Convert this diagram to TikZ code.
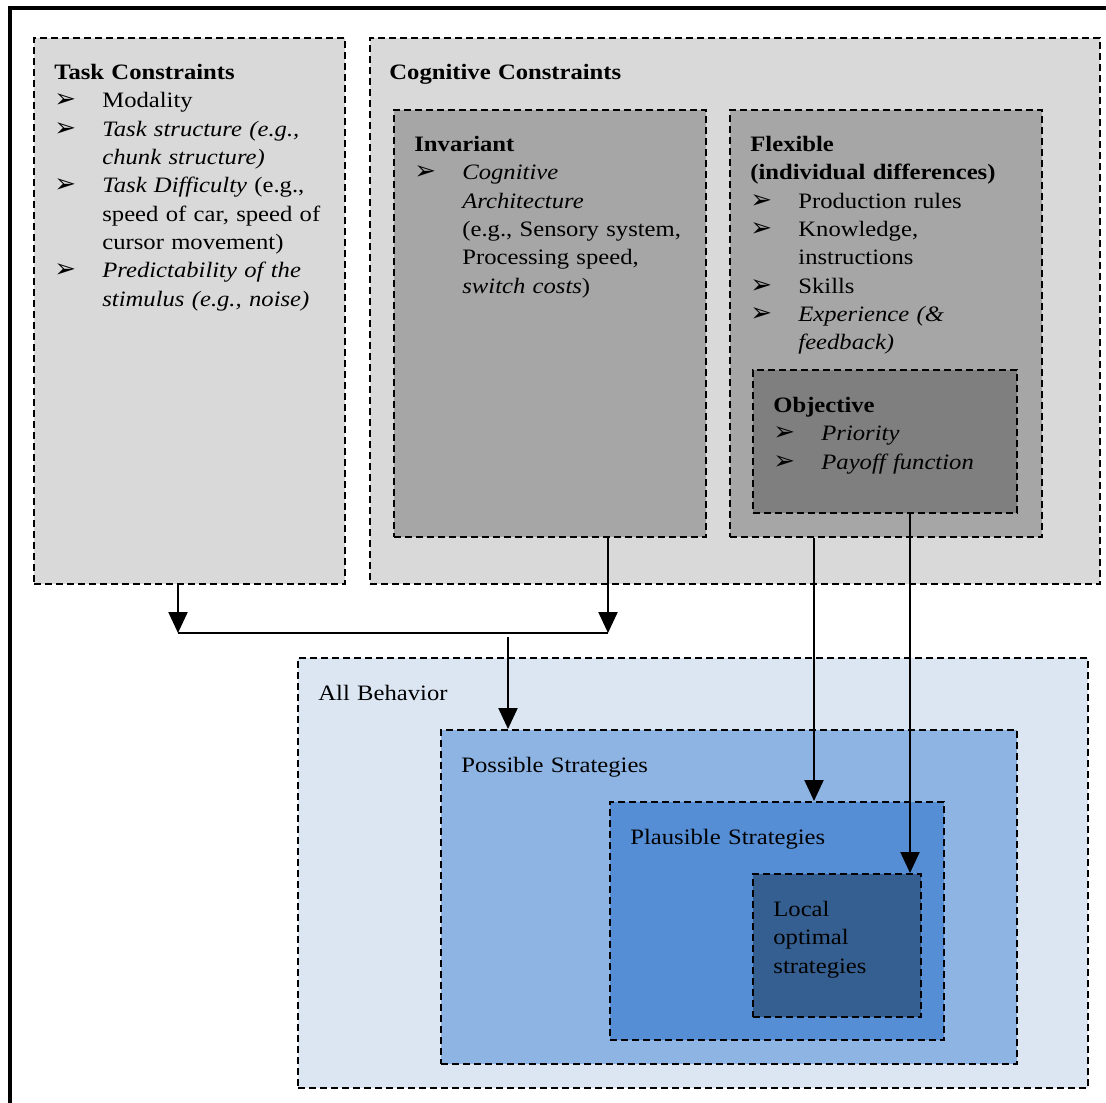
\documentclass[tikz,border=0pt]{standalone}
\usepackage{fontspec}
\setmainfont[FakeStretch=1.12]{Liberation Serif}
\newfontfamily\dingfont{DejaVu Sans}
\usetikzlibrary{arrows.meta}

\definecolor{greyLight}{HTML}{D9D9D9}
\definecolor{greyMid}{HTML}{A6A6A6}
\definecolor{greyDark}{HTML}{7F7F7F}
\definecolor{blueA}{HTML}{DCE6F2}
\definecolor{blueB}{HTML}{8EB4E3}
\definecolor{blueC}{HTML}{558ED5}
\definecolor{blueD}{HTML}{365F91}

% arrowhead bullet and a bulleted item with hanging indent
\newcommand\bul{{\dingfont\fontsize{13}{14}\selectfont ➢}}
\newcommand\itm[1]{\par\noindent\hangindent=24pt\hangafter=1\makebox[24pt][l]{\bul}#1\par}

\tikzset{
  region/.style={draw=black, line width=1.1pt, dash pattern=on 3.5pt off 2pt,
    inner sep=0pt, anchor=north west},
  txt/.style={inner sep=0pt, anchor=north west, align=left, text width=200pt,
    font=\fontsize{11}{14.15}\selectfont},
  arr/.style={line width=1.1pt, -{Triangle[length=10.5pt,width=9.5pt]}},
  link/.style={line width=1.1pt}
}

\begin{document}
\begin{tikzpicture}[x=0.5pt,y=-0.5pt]
\useasboundingbox (0,0) rectangle (1106,1102);
\clip (0,0) rectangle (1106,1102);

% outer frame
\draw[line width=1.6pt] (10,1200) -- (10,8) -- (1200,8);

% constraint regions
\node[region, fill=greyLight, minimum width=155.5pt, minimum height=273pt] (task) at (33,37) {};
\node[region, fill=greyLight, minimum width=365pt, minimum height=273pt] (cog) at (369,37) {};
\node[region, fill=greyMid, minimum width=156pt, minimum height=213.5pt] (inv) at (393,109) {};
\node[region, fill=greyMid, minimum width=156pt, minimum height=213.5pt] (flex) at (729,109) {};
\node[region, fill=greyDark, minimum width=132pt, minimum height=71.5pt] (obj) at (752,369) {};

% behaviour regions
\node[region, fill=blueA, minimum width=395pt, minimum height=215pt] (all) at (297,657) {};
\node[region, fill=blueB, minimum width=288pt, minimum height=167pt] (poss) at (440,729) {};
\node[region, fill=blueC, minimum width=167pt, minimum height=119pt] (plaus) at (609,801) {};
\node[region, fill=blueD, minimum width=84pt, minimum height=71.5pt] (local) at (752,873) {};

% texts
\node[txt] (taskT) at (54,64) {\textbf{Task Constraints}\par
\itm{Modality}
\itm{\textit{Task structure (e.g.,\newline chunk structure)}}
\itm{\textit{Task Difficulty} (e.g.,\newline speed of car, speed of\newline cursor movement)}
\itm{\textit{Predictability of the\newline stimulus (e.g., noise)}}};

\node[txt] (cogT) at (389,64) {\textbf{Cognitive Constraints}};

\node[txt] (invT) at (414,136) {\textbf{Invariant}\par
\itm{\textit{Cognitive\newline Architecture}\newline (e.g., Sensory system,\newline Processing speed,\newline \textit{switch costs})}};

\node[txt] (flexT) at (750,136) {\textbf{Flexible\newline (individual differences)}\par
\itm{Production rules}
\itm{Knowledge,\newline instructions}
\itm{Skills}
\itm{\textit{Experience (\&\newline feedback)}}};

\node[txt] (objT) at (773,397) {\textbf{Objective}\par
\itm{\textit{Priority}}
\itm{\textit{Payoff function}}};

\node[txt] (allT) at (318,685) {All Behavior};
\node[txt] (possT) at (461,757) {Possible Strategies};
\node[txt] (plausT) at (630,829) {Plausible Strategies};
\node[txt] (localT) at (773,901) {Local\newline optimal\newline strategies};

% connectors
\coordinate (j1) at (178,633);
\coordinate (j2) at (608,633);
\coordinate (j3) at (508,637);
\coordinate (xf) at (814,0);
\coordinate (xo) at (910,0);

\draw[arr] (task.south -| j1) -- (j1);
\draw[arr] (inv.south -| j2) -- (j2);
\draw[link] (j1) -- (j2);
\draw[arr] (j3) -- (poss.north -| j3);
\draw[arr] (flex.south -| xf) -- (plaus.north -| xf);
\draw[arr] (obj.south -| xo) -- (local.north -| xo);
\end{tikzpicture}
\end{document}
